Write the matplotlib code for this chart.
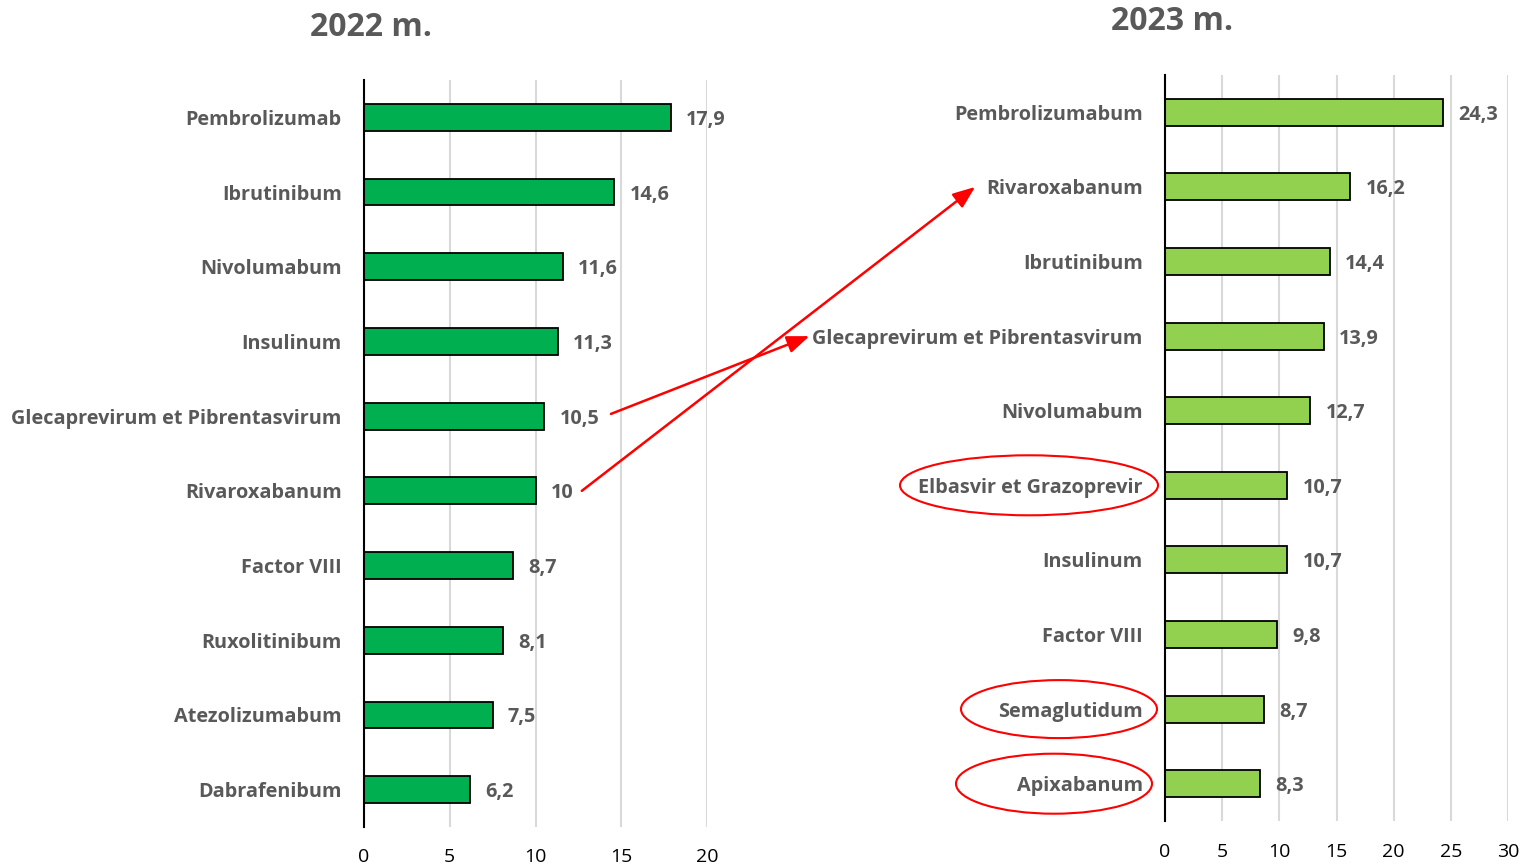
import matplotlib
matplotlib.use("Agg")
import matplotlib.pyplot as plt
from matplotlib.patches import Ellipse, ConnectionPatch

# Data
drugs_2022 = ["Pembrolizumab", "Ibrutinibum", "Nivolumabum", "Insulinum",
              "Glecaprevirum et Pibrentasvirum", "Rivaroxabanum", "Factor VIII",
              "Ruxolitinibum", "Atezolizumabum", "Dabrafenibum"]
values_2022 = [17.9, 14.6, 11.6, 11.3, 10.5, 10.0, 8.7, 8.1, 7.5, 6.2]

drugs_2023 = ["Pembrolizumabum", "Rivaroxabanum", "Ibrutinibum",
              "Glecaprevirum et Pibrentasvirum", "Nivolumabum",
              "Elbasvir et Grazoprevir", "Insulinum", "Factor VIII",
              "Semaglutidum", "Apixabanum"]
values_2023 = [24.3, 16.2, 14.4, 13.9, 12.7, 10.7, 10.7, 9.8, 8.7, 8.3]

ticks_2022 = [0, 5, 10, 15, 20]
ticks_2023 = [0, 5, 10, 15, 20, 25, 30]
highlighted = ["Elbasvir et Grazoprevir", "Semaglutidum", "Apixabanum"]

W, H = 1523, 868
fig = plt.figure(figsize=(W / 100, H / 100), dpi=100)
plt.rcParams['font.family'] = ['Open Sans', 'DejaVu Sans']

GRAY = "#595959"
FS = 14.3

def fmt(v):
    s = f"{v:.1f}".replace(".", ",")
    if s.endswith(",0"):
        s = s[:-2]
    return s

def make(ax, names, vals, ticks, color, xpad):
    y = list(range(len(names)))
    bars = ax.barh(y, vals, height=0.36, color=color, edgecolor="black", linewidth=1.3, zorder=3)
    ax.set_ylim(len(names) - 0.5, -0.5)
    ax.set_xlim(ticks[0], ticks[-1])
    ax.set_xticks(ticks)
    ax.set_yticks(y)
    ax.set_yticklabels(names, fontsize=FS, fontweight="bold", color=GRAY)
    ax.tick_params(axis="y", length=0, pad=16)
    ax.tick_params(axis="x", length=0, pad=xpad, labelsize=14, labelcolor="black")
    for s in ["top", "right", "bottom"]:
        ax.spines[s].set_visible(False)
    ax.spines["left"].set_linewidth(1.5)
    ax.spines["left"].set_zorder(4)
    ax.grid(axis="x", color="#D9D9D9", linewidth=1.5, zorder=0)
    ax.set_axisbelow(True)
    texts = ax.bar_label(bars, labels=[fmt(v) for v in vals], padding=11,
                         fontsize=FS, fontweight="bold", color=GRAY)
    for t in texts:
        t.set_va("center_baseline")
    return bars

ax1 = fig.add_axes([364 / W, 1 - 827 / H, 343 / W, 747 / H])
ax2 = fig.add_axes([1165 / W, 1 - 821 / H, 343 / W, 746 / H])
make(ax1, drugs_2022, values_2022, ticks_2022, "#00B050", 15)
make(ax2, drugs_2023, values_2023, ticks_2023, "#92D050", 16)

fig.text(371 / W, 1 - 27 / H, "2022 m.", ha="center", va="center",
         fontsize=23, fontweight="bold", color=GRAY)
fig.text(1172 / W, 1 - 22 / H, "2023 m.", ha="center", va="center",
         fontsize=23, fontweight="bold", color=GRAY)

# Ellipses around highlighted labels in 2023 (data coordinates of ax2)
px = 343 / 30.0  # pixels per unit on ax2
ell_specs = {"Elbasvir et Grazoprevir": (1029, 258, 60),
             "Semaglutidum": (1059, 196, 58),
             "Apixabanum": (1054, 196, 60)}
for name in highlighted:
    cx, w, h = ell_specs[name]
    idx = drugs_2023.index(name)
    e = Ellipse(((cx - 1165) / px, idx), width=w / px, height=h / 74.6,
                fill=False, edgecolor="red", linewidth=1.5, clip_on=False, zorder=5)
    ax2.add_patch(e)

# Arrows from 2022 positions to 2023 positions
arrow_specs = [("Glecaprevirum et Pibrentasvirum", 14.4, -0.03, -31.1),
               ("Rivaroxabanum", 12.7, 0.0, -16.6)]
for name, x0, dy, x1 in arrow_specs:
    i0 = drugs_2022.index(name)
    i1 = drugs_2023.index(name)
    cp = ConnectionPatch(xyA=(x0, i0 + dy), coordsA=ax1.transData,
                         xyB=(x1, i1), coordsB=ax2.transData,
                         arrowstyle="-|>,head_length=0.9,head_width=0.35",
                         color="red", linewidth=1.8, mutation_scale=15,
                         shrinkA=0, shrinkB=0, zorder=6)
    fig.add_artist(cp)

fig.savefig("out.png", dpi=100)
